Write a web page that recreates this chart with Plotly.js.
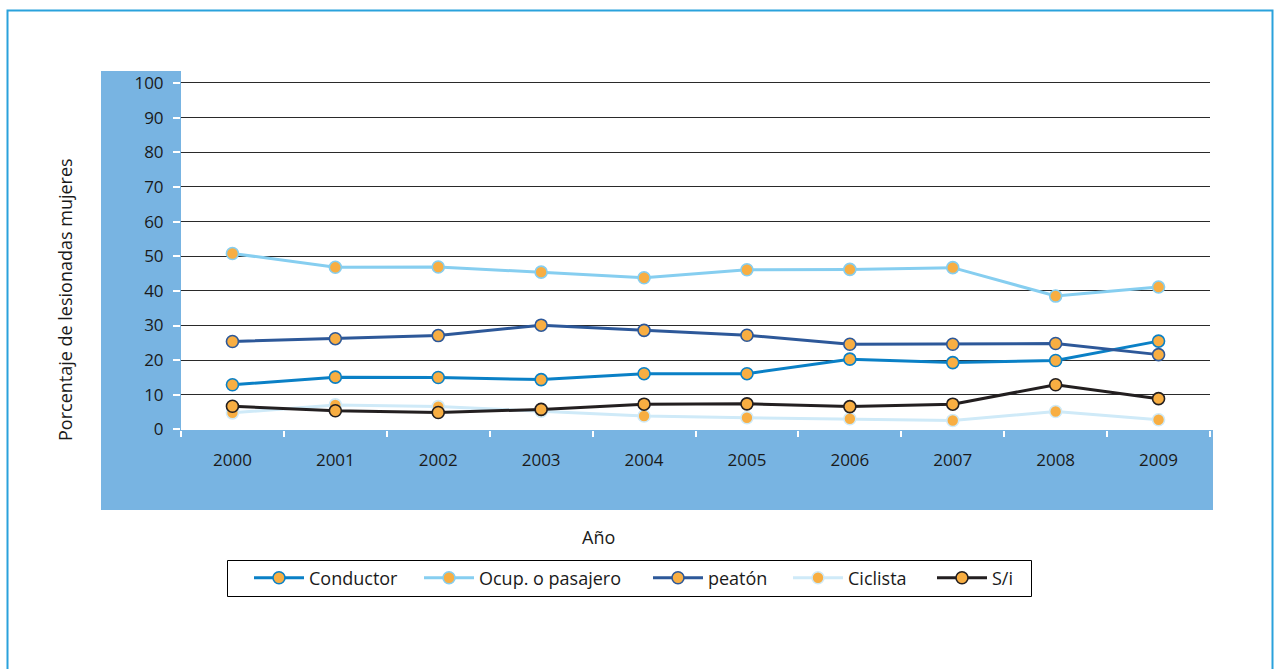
<!DOCTYPE html>
<html>
<head>
<meta charset="utf-8">
<script src="https://cdn.plot.ly/plotly-3.0.1.min.js"></script>
<style>
html,body{margin:0;padding:0;background:#fff;}
#chart{width:1274px;height:669px;}
</style>
</head>
<body>
<div id="chart"></div>
<script>
const years = ['2000','2001','2002','2003','2004','2005','2006','2007','2008','2009'];
const conductor = [12.9, 15.1, 15.0, 14.4, 16.1, 16.1, 20.3, 19.3, 19.9, 25.5];
const ocupPasajero = [50.8, 46.8, 46.9, 45.4, 43.8, 46.1, 46.2, 46.7, 38.5, 41.1];
const peaton = [25.4, 26.2, 27.1, 30.1, 28.6, 27.2, 24.6, 24.6, 24.8, 21.6];
const ciclista = [4.8, 7.1, 6.6, 5.3, 3.9, 3.4, 3.1, 2.6, 5.2, 2.8];
const sinInfo = [6.7, 5.4, 4.9, 5.8, 7.3, 7.4, 6.6, 7.3, 12.9, 8.9];
const seriesNames = ['Conductor', 'Ocup. o pasajero', 'peatón', 'Ciclista', 'S/i'];
const yTickVals = [0,10,20,30,40,50,60,70,80,90,100];

// layout geometry (pixels)
const W = 1274, H = 669;
const L = 181, R = 1210, T = 71, B = 430;
const pw = R - L, ph = B - T;
const px = x => (x - L) / pw;
const py = y => (B - y) / ph;

const lineColors = ['#0a80c6', '#86cef0', '#2d5899', '#cfeaf8', '#231f20'];
const markerFill = '#f8ae42';
const dataSets = [conductor, ocupPasajero, peaton, ciclista, sinInfo];
const xIdx = years.map((_, i) => i);
const legendIds = ['legend', 'legend2', 'legend3', 'legend4', 'legend5'];
const legendTextStart = [310, 480, 709, 849, 993];
const ITEMW = 50, TEXT_OFF = 61;

const traces = dataSets.map((vals, k) => ({
  type: 'scatter',
  mode: 'lines+markers',
  name: seriesNames[k],
  legend: legendIds[k],
  x: xIdx,
  y: vals,
  line: {color: lineColors[k], width: 3},
  marker: {color: markerFill, size: 12, line: {color: lineColors[k], width: 1.6}},
  hoverinfo: 'x+y'
}));

const blue = '#78b4e2';
const layout = {
  width: W, height: H,
  margin: {l: L, r: W - R, t: T, b: H - B, pad: 0},
  paper_bgcolor: '#ffffff',
  plot_bgcolor: 'rgba(0,0,0,0)',
  font: {family: 'Open Sans, Noto Sans, sans-serif', size: 17, color: '#1a1a1a'},
  showlegend: true,
  xaxis: {
    range: [-0.5, 9.5],
    tickmode: 'array',
    tickvals: xIdx,
    ticktext: years,
    ticks: '',
    showgrid: false,
    zeroline: false,
    showline: false,
    ticklabelstandoff: 18,
    tickfont: {size: 17, color: '#1a1a1a'},
    minor: {tick0: -0.5, dtick: 1, ticks: 'outside', ticklen: 6, tickcolor: '#ffffff', tickwidth: 2, showgrid: false},
    fixedrange: true
  },
  yaxis: {
    range: [-0.15, 103.45],
    tickmode: 'array',
    tickvals: yTickVals,
    ticktext: yTickVals.map(String),
    ticks: 'outside',
    ticklen: 7,
    tickwidth: 2,
    tickcolor: '#ffffff',
    ticklabelstandoff: 6,
    showgrid: true,
    gridcolor: '#2a2a2a',
    gridwidth: 1,
    zeroline: false,
    showline: false,
    tickfont: {size: 17, color: '#1a1a1a'},
    fixedrange: true
  },
  shapes: [
    // blue frame pieces
    {type: 'rect', xref: 'paper', yref: 'paper', layer: 'below',
     x0: px(101), x1: px(181), y0: py(510), y1: py(71),
     fillcolor: blue, line: {width: 0}},
    {type: 'rect', xref: 'paper', yref: 'paper', layer: 'below',
     x0: px(181), x1: px(1213), y0: py(510), y1: py(430),
     fillcolor: blue, line: {width: 0}},
    // outer border
    {type: 'rect', xref: 'paper', yref: 'paper', layer: 'below',
     x0: px(7.5), x1: px(1272.5), y0: py(680), y1: py(10.5),
     fillcolor: 'rgba(0,0,0,0)', line: {color: '#2aa2dc', width: 2}},
    // legend box
    {type: 'rect', xref: 'paper', yref: 'paper', layer: 'below',
     x0: px(227.5), x1: px(1031.5), y0: py(596.5), y1: py(560.5),
     fillcolor: '#ffffff', line: {color: '#000000', width: 1}}
  ],
  annotations: [
    {text: 'Porcentaje de lesionadas mujeres', xref: 'paper', yref: 'paper',
     x: px(65), y: py(300), xanchor: 'center', yanchor: 'middle', textangle: -90,
     showarrow: false, font: {size: 18, color: '#1a1a1a'}},
    {text: 'Año', xref: 'paper', yref: 'paper',
     x: px(598), y: py(537), xanchor: 'center', yanchor: 'middle',
     showarrow: false, font: {size: 18, color: '#1a1a1a'}}
  ]
};

legendIds.forEach((id, k) => {
  layout[id] = {
    orientation: 'h',
    x: px(legendTextStart[k] - TEXT_OFF), xanchor: 'left',
    y: py(578), yanchor: 'middle',
    borderwidth: 0,
    bgcolor: 'rgba(0,0,0,0)',
    font: {size: 18, color: '#1a1a1a'},
    itemwidth: ITEMW
  };
});

Plotly.newPlot('chart', traces, layout, {displayModeBar: false, staticPlot: true});
</script>
</body>
</html>
